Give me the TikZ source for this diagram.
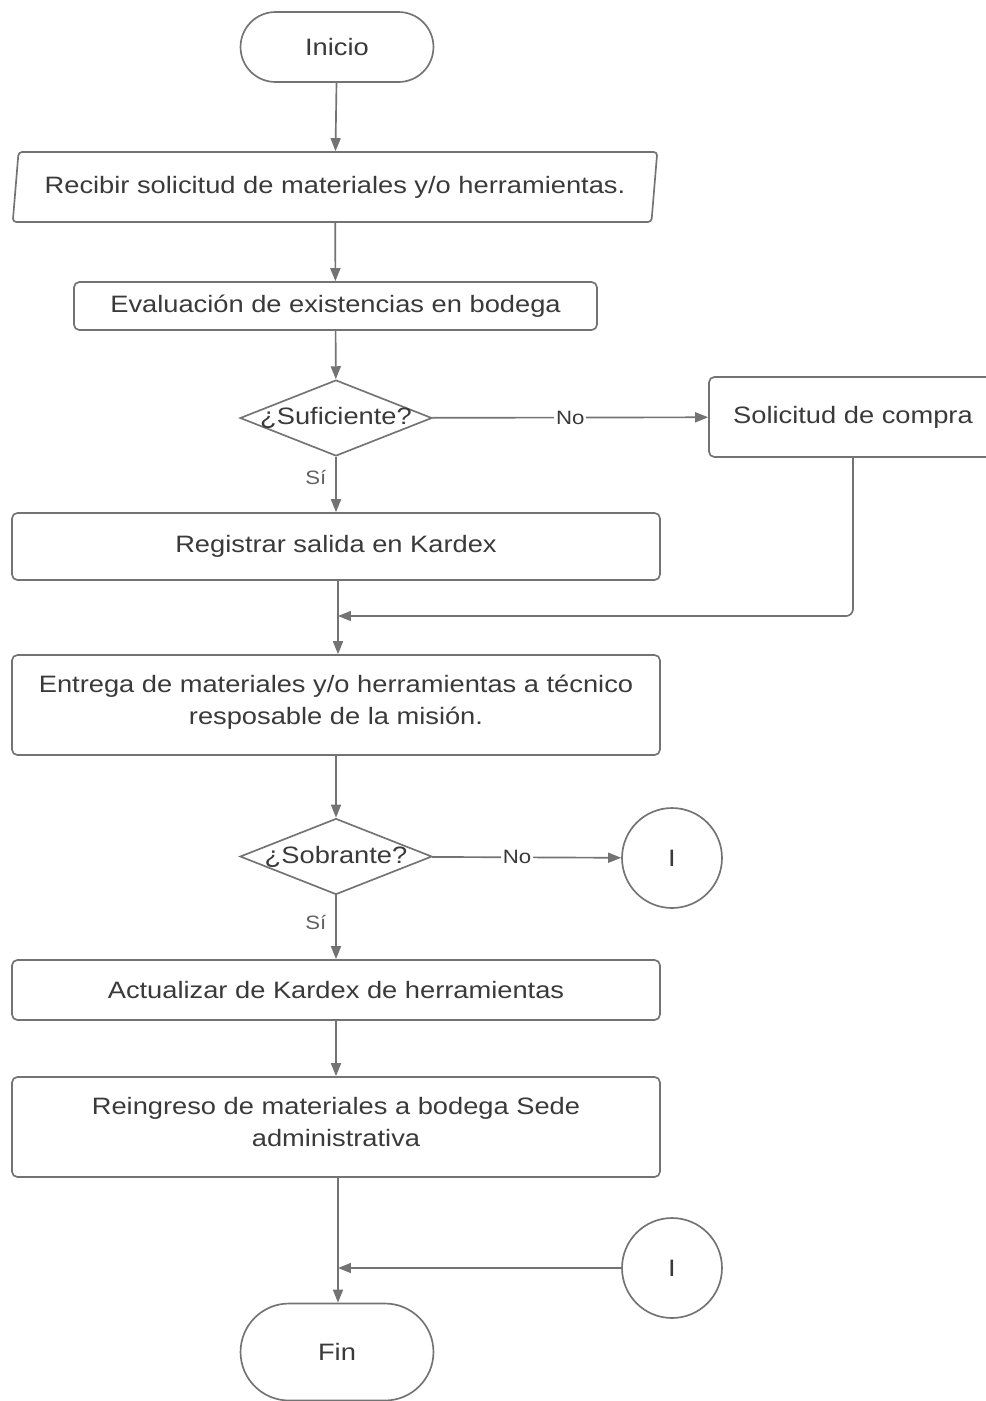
\documentclass[tikz,border=0pt]{standalone}
\usepackage{fontspec}
\setmainfont[FakeStretch=1.15]{Liberation Sans}
\usetikzlibrary{shapes.geometric,shapes.misc,arrows.meta}
\definecolor{ln}{HTML}{737373}
\definecolor{tx}{HTML}{3A3A3A}
\begin{document}
\begin{tikzpicture}[x=0.02cm,y=-0.02cm,
  every node/.style={text=tx,font=\fontsize{13.5}{18}\selectfont},
  shp/.style={draw=ln,line width=0.95pt,fill=white,inner sep=2pt},
  term/.style={shp,rounded rectangle,minimum width=4cm},
  iobox/.style={shp,trapezium,trapezium left angle=79.5,trapezium right angle=100.5,trapezium stretches=true,minimum width=12.92cm,minimum height=1.4cm,rounded corners=2pt},
  proc/.style={shp,rectangle,rounded corners=3pt},
  dec/.style={shp,diamond,inner sep=0pt,minimum width=3.84cm,minimum height=1.52cm},
  conn/.style={shp,circle,minimum size=2cm},
  arr/.style={draw=ln,line width=0.95pt,-{Triangle[length=0.26cm,width=0.2cm]}},
  lab/.style={fill=white,inner sep=1pt,font=\fontsize{11}{13}\selectfont},
  ylab/.style={inner sep=1pt,left,xshift=-4pt,text=tx!80,font=\fontsize{11}{13}\selectfont}
]
\useasboundingbox (0,0) rectangle (985,1401);
\node[term,minimum height=1.4cm] (inicio) at (337,47) {Inicio};
\node[iobox] (recv) at (335,187) {Recibir solicitud de materiales y/o herramientas.};
\node[proc,minimum width=10.46cm,minimum height=0.96cm] (eval) at (335.5,306) {Evaluación de existencias en bodega};
\node[dec] (suf) at (336,418) {\makebox[0pt]{¿Suficiente?}};
\node[proc,minimum width=5.76cm,minimum height=1.6cm] (compra) at (853,417) {Solicitud de compra};
\node[proc,minimum width=12.96cm,minimum height=1.34cm] (reg) at (336,546.5) {Registrar salida en Kardex};
\node[proc,minimum width=12.96cm,minimum height=2cm,align=center] (entrega) at (336,705) {Entrega de materiales y/o herramientas a técnico\\resposable de la misión.\\[-12pt]};
\node[dec] (sob) at (336,856.5) {\makebox[0pt]{¿Sobrante?}};
\node[conn] (c1) at (672,858) {I};
\node[proc,minimum width=12.96cm,minimum height=1.2cm] (act) at (336,990) {Actualizar de Kardex de herramientas};
\node[proc,minimum width=12.96cm,minimum height=2cm,align=center] (rein) at (336,1127) {Reingreso de materiales a bodega Sede\\administrativa\\[-12pt]};
\node[conn] (c2) at (672,1268) {I};
\node[term,minimum height=1.94cm] (fin) at (337,1352) {Fin};
\coordinate (j1) at (338,616);
\coordinate (j2) at (338,1268);

\draw[arr] (inicio) -- (recv);
\draw[arr] (recv) -- (eval);
\draw[arr] (eval) -- (suf);
\draw[arr] (suf) -- node[lab]{No} (compra);
\draw[arr] (suf) -- node[ylab,yshift=4pt]{Sí} (reg);
\draw[arr] (reg.south -| j1) -- (entrega.north -| j1);
\draw[arr,rounded corners=4pt] (compra.south) |- (j1);
\draw[arr] (entrega) -- (sob);
\draw[arr] (sob) -- node[lab,pos=0.45]{No} (c1);
\draw[arr] (sob) -- node[ylab,yshift=3pt]{Sí} (act);
\draw[arr] (act) -- (rein);
\draw[arr] (rein.south -| j2) -- (fin.north -| j2);
\draw[arr] (c2) -- (j2);
\end{tikzpicture}
\end{document}
